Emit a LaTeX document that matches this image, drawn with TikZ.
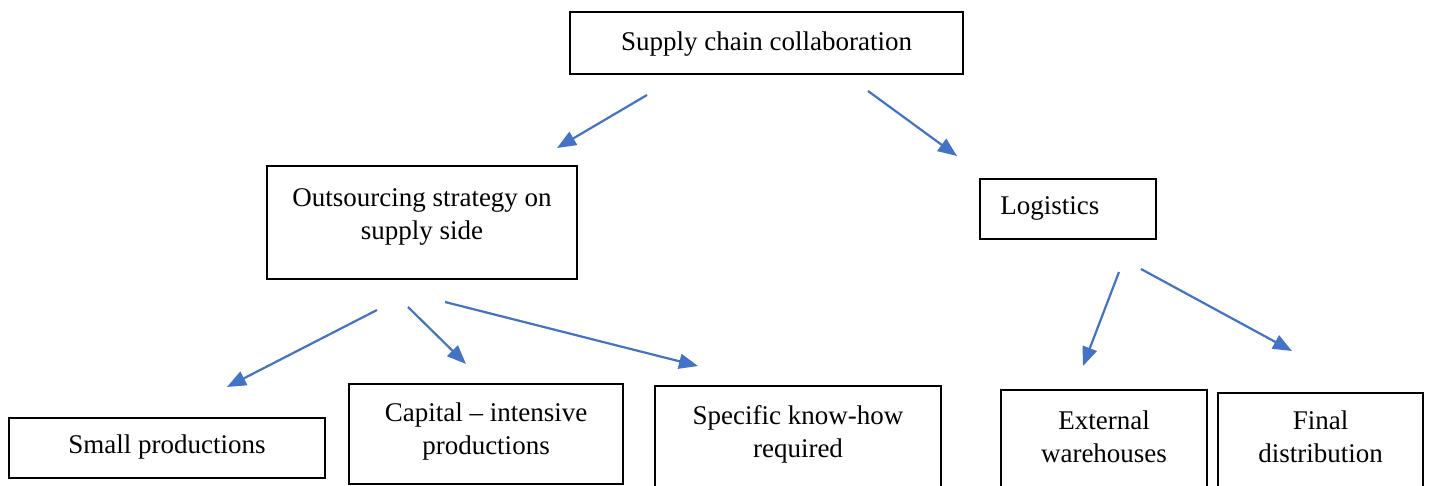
\documentclass[tikz,border=0pt]{standalone}
\usepackage{fontspec}
\setmainfont{Liberation Serif}
\usetikzlibrary{arrows.meta,positioning}
\definecolor{arrowblue}{RGB}{68,114,196}

\begin{document}
\begin{tikzpicture}[x=1pt,y=-1pt,
                    box/.style={draw,line width=1.8pt,inner sep=0pt},
                    txt/.style={inner sep=0pt,align=center,font=\fontsize{27}{33}\selectfont},
                    arr/.style={-{Triangle[length=19pt,width=15pt]},draw=arrowblue,line width=2.2pt}]
    \useasboundingbox (0,0) rectangle (1430,486);
    % boxes
    \node [box,minimum width=393pt,minimum height=62pt]  (scc)   at (766.5,43)  {};
    \node [box,minimum width=310pt,minimum height=113pt] (outs)  at (422,222.5) {};
    \node [box,minimum width=176pt,minimum height=60pt]  (logi)  at (1068,209)  {};
    \node [box,minimum width=316pt,minimum height=60pt]  (small) at (167,448)   {};
    \node [box,minimum width=274pt,minimum height=100pt] (capi)  at (486,434)   {};
    \node [box,minimum width=286pt,minimum height=144pt] (spec)  at (798,458)   {};
    \node [box,minimum width=206pt,minimum height=140pt] (extw)  at (1104,460)  {};
    \node [box,minimum width=205pt,minimum height=137pt] (fina)  at (1320.5,461.5) {};
    % texts
    \node [txt,below=20pt of scc.north]   (scc-t)   {Supply chain collaboration};
    \node [txt,below=23pt of outs.north]  (outs-t)  {Outsourcing strategy on\\supply side};
    \node [txt,below right=18.5pt and 21pt of logi.north west] (logi-t) {Logistics};
    \node [txt,below=17.5pt of small.north] (small-t) {Small productions};
    \node [txt,below=19.5pt of capi.north]  (capi-t)  {Capital -- intensive\\productions};
    \node [txt,below=20.5pt of spec.north]  (spec-t)  {Specific know-how\\required};
    \node [txt,below=21.5pt of extw.north]  (extw-t)  {External\\warehouses};
    \node [txt,below=18.5pt of fina.north]  (fina-t)  {Final\\distribution};
    % arrow ends
    \coordinate (a1) at (647,95);   \coordinate (b1) at (557,148);
    \coordinate (a2) at (868,91);   \coordinate (b2) at (957,156);
    \coordinate (a3) at (377,310);  \coordinate (b3) at (227,387);
    \coordinate (a4) at (408,307);  \coordinate (b4) at (466,364);
    \coordinate (a5) at (445,302);  \coordinate (b5) at (698,366);
    \coordinate (a6) at (1119,272); \coordinate (b6) at (1083,366);
    \coordinate (a7) at (1141,269); \coordinate (b7) at (1292,351);
    \foreach \i in {1,...,7}
        \draw [arr] (a\i) -- (b\i);
\end{tikzpicture}
\end{document}
